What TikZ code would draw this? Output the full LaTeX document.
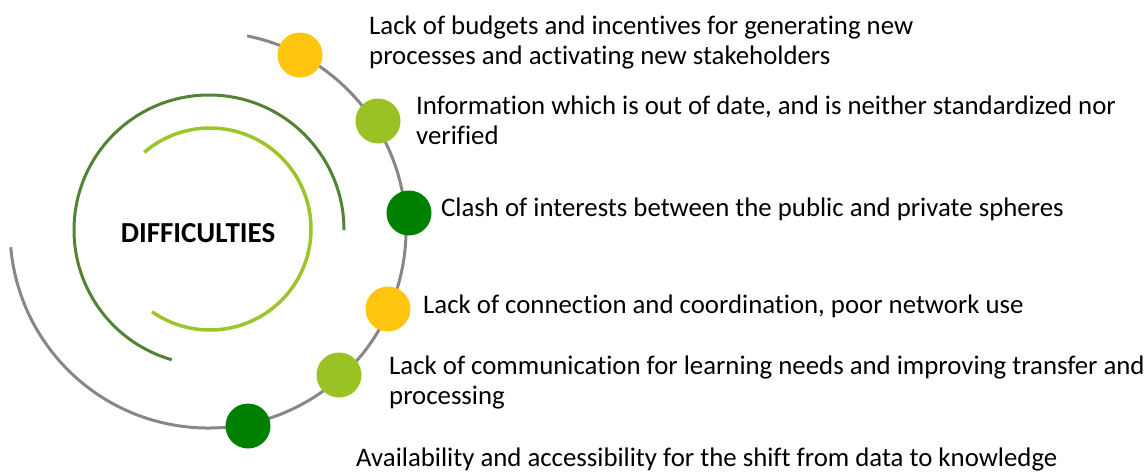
\documentclass[tikz,border=0pt]{standalone}
\usepackage{fontspec}
\setmainfont{Carlito}[Ligatures=NoCommon]
\definecolor{greyarc}{HTML}{878787}
\definecolor{darkarc}{HTML}{548235}
\definecolor{lightarc}{HTML}{9BC52A}
\definecolor{dotyellow}{HTML}{FFC50F}
\definecolor{dotlight}{HTML}{9AC224}
\definecolor{dotdark}{HTML}{008000}
\begin{document}
\begin{tikzpicture}[x=1pt,y=-1pt,
  dot/.style={circle,minimum size=45pt,inner sep=0pt,draw=none},
  lbl/.style={anchor=base west,inner sep=0pt,align=left,font=\fontsize{26.8}{30}\selectfont},
  ring/.style={line width=3pt}]
\useasboundingbox (0,0) rectangle (1148,471);
% arcs
\coordinate (O) at (208,230);
\draw[ring,greyarc] (O) ++(78.6:198pt) arc[start angle=78.6,end angle=-175,radius=198pt];
\coordinate (O2) at (209,230);
\draw[ring,darkarc] (O2) ++(0:135pt) arc[start angle=0,end angle=254,radius=135pt];
\coordinate (O3) at (210,229);
\draw[ring,lightarc,line width=3.5pt] (O3) ++(130.6:101pt) arc[start angle=130.6,end angle=-125,radius=101pt];
% center label
\node[font=\fontsize{29}{34}\selectfont\bfseries,anchor=base,inner sep=0pt] (title) at (198,242) {DIFFICULTIES};
% dots
\node[dot,fill=dotyellow] (c1) at (300,55) {};
\node[dot,fill=dotlight]  (c2) at (378,121) {};
\node[dot,fill=dotdark]   (c3) at (409,213) {};
\node[dot,fill=dotyellow] (c4) at (388,309) {};
\node[dot,fill=dotlight]  (c5) at (339,375) {};
\node[dot,fill=dotdark]   (c6) at (248,426) {};
% labels (base = baseline of the last line)
\node[lbl] (t1) at (369,64) {Lack of budgets and incentives for generating new\\processes and activating new stakeholders};
\node[lbl] (t2) at (416,144) {Information which is out of date, and is neither standardized nor\\verified};
\node[lbl] (t3) at (441,216) {Clash of interests between the public and private spheres};
\node[lbl] (t4) at (423,313) {Lack of connection and coordination, poor network use};
\node[lbl] (t5) at (389,404) {Lack of communication for learning needs and improving transfer and\\processing};
\node[lbl] (t6) at (356,466) {Availability and accessibility for the shift from data to knowledge};
\end{tikzpicture}
\end{document}
